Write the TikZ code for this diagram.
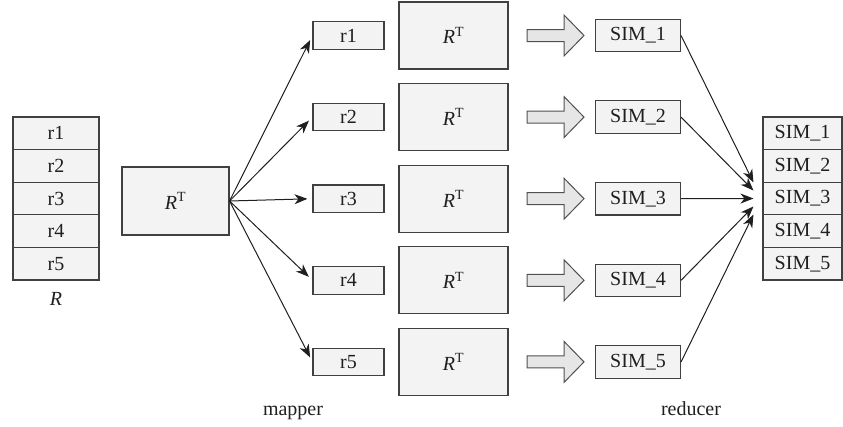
\documentclass[tikz,border=0pt]{standalone}
\usepackage{fontspec}
\setmainfont{Liberation Serif}
\usetikzlibrary{arrows.meta,calc}
\definecolor{boxfill}{HTML}{F3F3F3}
\definecolor{boxline}{HTML}{404040}
\definecolor{blockfill}{HTML}{E6E6E6}
\definecolor{blockline}{HTML}{505050}
\newcommand{\RT}{\textit{R}\textsuperscript{T}}
\begin{document}
\begin{tikzpicture}[x=1pt,y=-1pt,
  every node/.style={font=\fontsize{20}{24}\selectfont, text=black!88},
  cell/.style={draw=boxline, fill=boxfill, line width=1.1pt, inner sep=0pt, minimum height=32.6pt},
  lcell/.style={cell, minimum width=86pt},
  rcell/.style={cell, minimum width=79pt},
  rbox/.style={draw=boxline, fill=boxfill, line width=1.1pt, inner sep=0pt, minimum width=71pt, minimum height=27.5pt},
  bigbox/.style={draw=boxline, fill=boxfill, line width=1.1pt, inner sep=0pt, minimum width=109pt, minimum height=67pt},
  simbox/.style={draw=boxline, fill=boxfill, line width=1.1pt, inner sep=0pt, minimum width=85pt, minimum height=32.5pt},
  conn/.style={draw=black!88, line width=1pt, -{Stealth[length=13pt,width=10pt,inset=4pt]}},
  blockarrow/.style={draw=blockline, fill=blockfill, line width=1pt, line join=miter},
  label/.style={inner sep=0pt, anchor=base}
]
\useasboundingbox (0,0) rectangle (843,426);

% input matrix R, one row per cell
\foreach \i in {1,...,5}{
  \node[lcell] (L\i) at (56, {100.7+32.6*\i}) {r\i};
}
\node[label] (Rlab) at (56,305) {\textit{R}};

% transposed matrix handed to the mapper
\node[bigbox, minimum width=107pt, minimum height=68pt] (RTin) at (175.5,201) {\RT};

% map tasks: one row against the full transpose, then the similarity output
\foreach \i in {1,...,5}{
  \pgfmathsetmacro{\yy}{35.5+81.6*(\i-1)}
  \node[rbox] (r\i) at (348.5,\yy) {r\i};
  \node[bigbox] (RT\i) at (453.5,\yy) {\RT};
  \node[simbox] (SIM\i) at (638,\yy) {SIM\_\i};
  \draw[blockarrow] (527,\yy-6) -- (564,\yy-6) -- (564,\yy-20.5) -- (584,\yy)
     -- (564,\yy+20.5) -- (564,\yy+6) -- (527,\yy+6) -- cycle;
  \draw[conn, shorten >=5pt] (RTin.east) -- (r\i.west);
}

% collected results
\foreach \i in {1,...,5}{
  \node[rcell] (S\i) at (802.5, {100.7+32.6*\i}) {SIM\_\i};
}

% reducer inputs converge on the result list
\foreach \i in {1,...,5}{
  \coordinate (t\i) at ($(S3.west)+(-9,{8*(\i-3)})$);
  \draw[conn] (SIM\i.east) -- (t\i);
}

\node[label] (mapper) at (293,415) {mapper};
\node[label] (reducer) at (691,415) {reducer};
\end{tikzpicture}
\end{document}
